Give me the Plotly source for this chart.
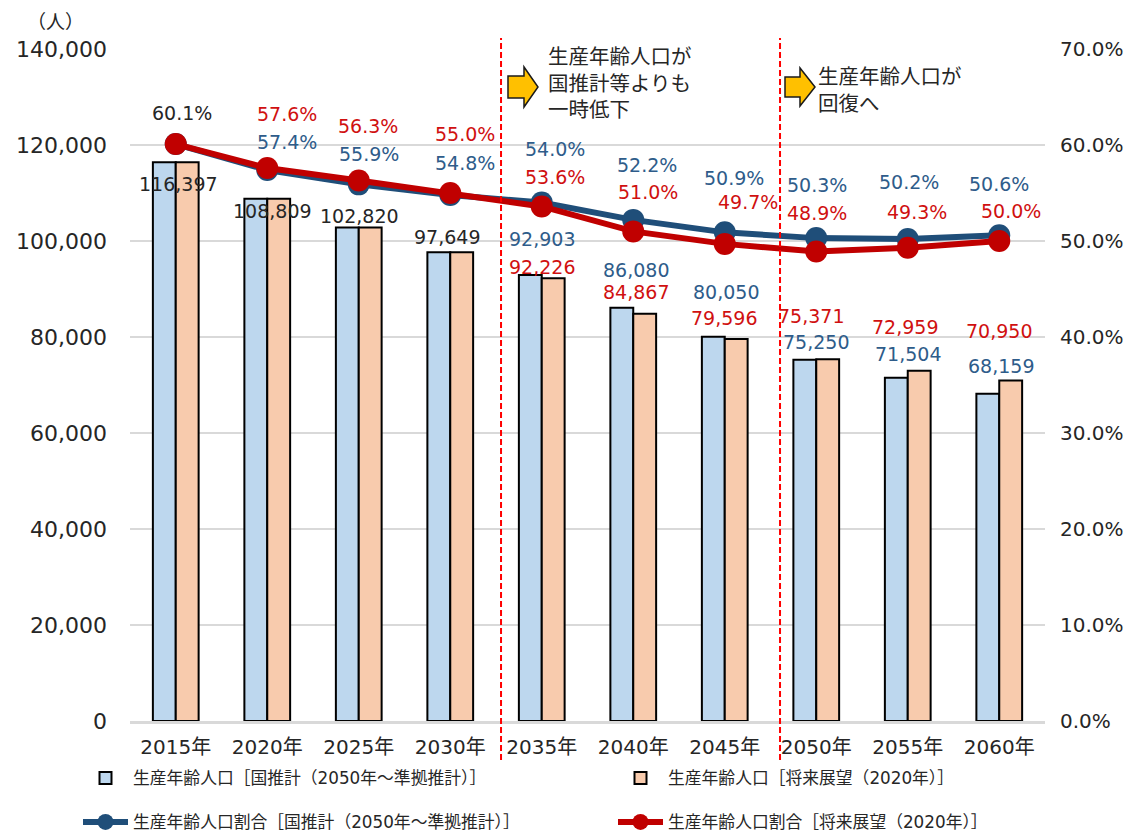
import plotly.graph_objects as go

# ---- data -------------------------------------------------------------
years = ["2015年", "2020年", "2025年", "2030年", "2035年",
         "2040年", "2045年", "2050年", "2055年", "2060年"]

# 生産年齢人口（人）
pop_national = [116397, 108809, 102820, 97649, 92903,
                86080, 80050, 75250, 71504, 68159]
pop_vision = [116397, 108809, 102820, 97649, 92226,
              84867, 79596, 75371, 72959, 70950]

# 生産年齢人口割合（%）
ratio_national = [60.1, 57.4, 55.9, 54.8, 54.0, 52.2, 50.9, 50.3, 50.2, 50.6]
ratio_vision = [60.1, 57.6, 56.3, 55.0, 53.6, 51.0, 49.7, 48.9, 49.3, 50.0]

names = {
    "bar_nat": "生産年齢人口［国推計（2050年～準拠推計）］",
    "bar_vis": "生産年齢人口［将来展望（2020年）］",
    "line_nat": "生産年齢人口割合［国推計（2050年～準拠推計）］",
    "line_vis": "生産年齢人口割合［将来展望（2020年）］",
}

# ---- styling ----------------------------------------------------------
W, H = 1131, 834
PLOT_L, PLOT_R, PLOT_T, PLOT_B = 130, 1045, 49, 721

BAR_BLUE = "#BDD7EE"
BAR_ORANGE = "#F8CBAD"
LINE_BLUE = "#1F4E79"
LINE_RED = "#C00000"
TXT_BLUE = "#2E5C8A"
TXT_RED = "#D01010"
TXT_DARK = "#262626"
NUM_FONT = "DejaVu Sans, Noto Sans CJK JP"
JP_FONT = "Noto Sans CJK JP, DejaVu Sans"

# label pixel shifts (dx, dy) relative to the value they annotate
shift_pop_common = [(3, -22), (5, -12), (1, 11), (-3, 15)]
shift_pop_nat = [None] * 4 + [(0, 36), (3, 38), (1, 45), (0, 18), (0, 24), (2, 28)]
shift_pop_vis = [None] * 4 + [(0, 11), (3, 22), (-1, 21), (-5, 43), (-3, 44), (0, 49)]
shift_ratio_common = (6, 31)
shift_ratio_nat = [None, (20, 28), (10, 30), (15, 32), (13, 54), (14, 55),
                   (9, 54), (1, 53), (1, 57), (0, 51)]
shift_ratio_vis = [None, (20, 54), (9, 55), (15, 59), (13, 29), (15, 39),
                   (23, 42), (1, 39), (9, 36), (12, 30)]


def px_x(x):
    return (x - PLOT_L) / (PLOT_R - PLOT_L)


def px_y(y):
    return (PLOT_B - y) / (PLOT_B - PLOT_T)


fig = go.Figure()

fig.add_trace(go.Bar(
    x=years, y=pop_national, name=names["bar_nat"], legend="legend",
    marker=dict(color=BAR_BLUE, line=dict(color="#000000", width=2)),
))
fig.add_trace(go.Bar(
    x=years, y=pop_vision, name=names["bar_vis"], legend="legend2",
    marker=dict(color=BAR_ORANGE, line=dict(color="#000000", width=2)),
))
fig.add_trace(go.Scatter(
    x=years, y=ratio_national, name=names["line_nat"], yaxis="y2",
    legend="legend3", mode="lines+markers",
    line=dict(color=LINE_BLUE, width=6),
    marker=dict(color=LINE_BLUE, size=22),
))
fig.add_trace(go.Scatter(
    x=years, y=ratio_vision, name=names["line_vis"], yaxis="y2",
    legend="legend4", mode="lines+markers",
    line=dict(color=LINE_RED, width=6),
    marker=dict(color=LINE_RED, size=22),
))

annotations = []


def value_label(i, value, text, color, shift, yref):
    dx, dy = shift
    annotations.append(dict(
        x=i, y=value, xref="x", yref=yref, text=text, showarrow=False,
        xanchor="center", yanchor="middle", xshift=dx, yshift=dy,
        font=dict(family=NUM_FONT, size=19, color=color),
    ))


for i in range(len(years)):
    if pop_national[i] == pop_vision[i]:
        value_label(i, pop_national[i], f"{pop_national[i]:,}", TXT_DARK,
                    shift_pop_common[i], "y")
    else:
        value_label(i, pop_national[i], f"{pop_national[i]:,}", TXT_BLUE,
                    shift_pop_nat[i], "y")
        value_label(i, pop_vision[i], f"{pop_vision[i]:,}", TXT_RED,
                    shift_pop_vis[i], "y")
    if ratio_national[i] == ratio_vision[i]:
        value_label(i, ratio_national[i], f"{ratio_national[i]:.1f}%", TXT_DARK,
                    shift_ratio_common, "y2")
    else:
        value_label(i, ratio_national[i], f"{ratio_national[i]:.1f}%", TXT_BLUE,
                    shift_ratio_nat[i], "y2")
        value_label(i, ratio_vision[i], f"{ratio_vision[i]:.1f}%", TXT_RED,
                    shift_ratio_vis[i], "y2")

# unit label of the left axis
annotations.append(dict(
    x=px_x(55), y=px_y(20), xref="paper", yref="paper", text="（人）",
    showarrow=False, xanchor="center", yanchor="middle",
    font=dict(family=JP_FONT, size=19, color=TXT_DARK),
))

# callout texts
annotations.append(dict(
    x=px_x(546), y=px_y(81), xref="paper", yref="paper",
    text="生産年齢人口が<br>国推計等よりも<br>一時低下",
    showarrow=False, xanchor="left", yanchor="middle", align="left",
    font=dict(family=JP_FONT, size=20.5, color=TXT_DARK),
))
annotations.append(dict(
    x=px_x(816), y=px_y(88), xref="paper", yref="paper",
    text="生産年齢人口が<br>回復へ",
    showarrow=False, xanchor="left", yanchor="middle", align="left",
    font=dict(family=JP_FONT, size=20.5, color=TXT_DARK),
))


def arrow_path(x0, body_w, tip_x, cy, body_h, head_h):
    pts = [
        (x0, cy - body_h / 2), (x0 + body_w, cy - body_h / 2),
        (x0 + body_w, cy - head_h / 2), (tip_x, cy),
        (x0 + body_w, cy + head_h / 2), (x0 + body_w, cy + body_h / 2),
        (x0, cy + body_h / 2),
    ]
    return "M " + " L ".join(f"{px_x(px):.5f},{px_y(py):.5f}" for px, py in pts) + " Z"


shapes = [
    # period boundaries
    dict(type="line", xref="x", yref="paper", x0=3.555, x1=3.555,
         y0=px_y(760), y1=px_y(38),
         line=dict(color="#FF0000", width=2, dash="6px,3px")),
    dict(type="line", xref="x", yref="paper", x0=6.604, x1=6.604,
         y0=px_y(760), y1=px_y(38),
         line=dict(color="#FF0000", width=2, dash="6px,3px")),
    # callout arrows
    dict(type="path", xref="paper", yref="paper",
         path=arrow_path(508, 16, 538, 87, 22, 40),
         fillcolor="#FFC000", line=dict(color="#1A1A1A", width=1.5)),
    dict(type="path", xref="paper", yref="paper",
         path=arrow_path(785, 15, 815, 87, 20, 38),
         fillcolor="#FFC000", line=dict(color="#1A1A1A", width=1.5)),
]


def legend_at(x_px, y_px):
    return dict(
        xref="container", yref="container",
        x=x_px / W, y=1 - y_px / H, xanchor="left", yanchor="middle",
        orientation="h", itemwidth=45,
        font=dict(family=NUM_FONT, size=16.8, color=TXT_DARK),
        bgcolor="rgba(0,0,0,0)",
    )


fig.update_layout(
    width=W, height=H,
    margin=dict(l=PLOT_L, r=W - PLOT_R, t=PLOT_T, b=H - PLOT_B,
                autoexpand=False),
    paper_bgcolor="white", plot_bgcolor="white",
    barmode="group", bargap=0.5, bargroupgap=0,
    showlegend=True,
    legend=legend_at(78, 778),
    legend2=legend_at(613, 778),
    legend3=legend_at(78, 822),
    legend4=legend_at(613, 822),
    xaxis=dict(
        type="category", range=[-0.5, len(years) - 0.5],
        showgrid=False, showline=True,
        linecolor="#D9D9D9", linewidth=2.5, ticks="",
        ticklabelstandoff=6,
        tickfont=dict(family=NUM_FONT, size=20, color=TXT_DARK),
    ),
    yaxis=dict(
        range=[0, 140000], dtick=20000, tickformat=",",
        showgrid=True, gridcolor="#D9D9D9", gridwidth=1.5,
        zeroline=False, showline=False, ticks="",
        ticklabelstandoff=22,
        tickfont=dict(family=NUM_FONT, size=22, color=TXT_DARK),
    ),
    yaxis2=dict(
        range=[0, 70], dtick=10, tickformat=".1f", ticksuffix="%",
        overlaying="y", side="right", showgrid=False, zeroline=False,
        showline=False, ticks="", ticklabelstandoff=14,
        tickfont=dict(family=NUM_FONT, size=20, color=TXT_DARK),
    ),
    annotations=annotations,
    shapes=shapes,
)

fig.write_html("out.html")
